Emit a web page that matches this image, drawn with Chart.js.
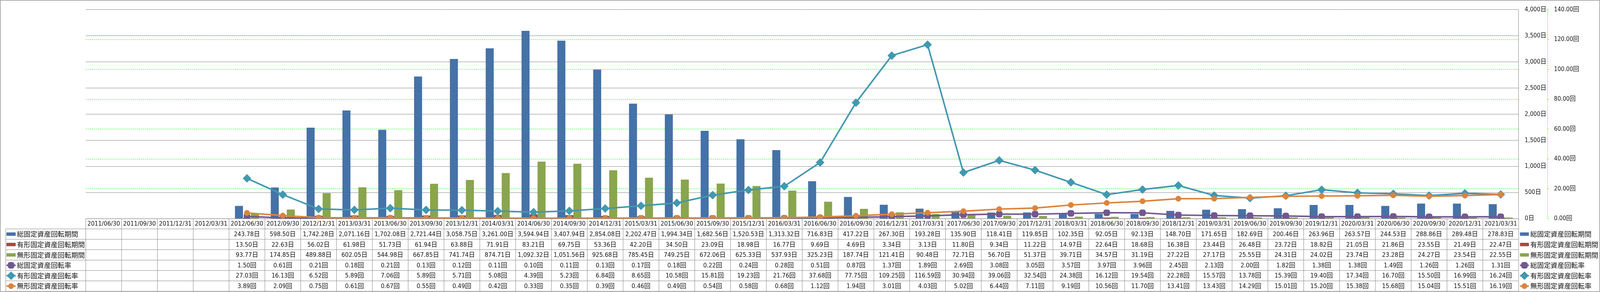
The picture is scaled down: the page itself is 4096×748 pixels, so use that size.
<!DOCTYPE html>
<html>
<head>
<meta charset="utf-8">
<script src="https://cdn.jsdelivr.net/npm/chart.js@4.4.1/dist/chart.umd.min.js"></script>
<style>
  html, body { margin: 0; padding: 0; background: #fff; }
  canvas { display: block; }
</style>
</head>
<body>
<canvas id="chart" width="4096" height="748"></canvas>
<script>
// the original picture is 4701 x 858, everything below is scaled to the window
const S = 4096 / 4701;

// quarters shown under the plot
const dates = [
  '2011/06/30', '2011/09/30', '2011/12/31', '2012/03/31', '2012/06/30', '2012/09/30', '2012/12/31', '2013/03/31',
  '2013/06/30', '2013/09/30', '2013/12/31', '2014/03/31', '2014/06/30', '2014/09/30', '2014/12/31', '2015/03/31',
  '2015/06/30', '2015/09/30', '2015/12/31', '2016/03/31', '2016/06/30', '2016/09/30', '2016/12/31', '2017/03/31',
  '2017/06/30', '2017/09/30', '2017/12/31', '2018/03/31', '2018/06/30', '2018/09/30', '2018/12/31', '2019/03/31',
  '2019/06/30', '2019/09/30', '2019/12/31', '2020/03/31', '2020/06/30', '2020/09/30', '2020/12/31', '2021/03/31'
];

// turnover periods (days) - bars, left scale
const totalPeriod = [null, null, null, null,
  243.78, 598.50, 1742.28, 2071.16, 1702.08, 2721.44, 3058.75, 3261.00, 3594.94, 3407.94, 2854.08, 2202.47,
  1994.34, 1682.56, 1520.53, 1313.32, 716.83, 417.22, 267.30, 193.28, 135.90, 118.41, 119.85, 102.35,
  92.05, 92.13, 148.70, 171.65, 182.69, 200.46, 263.96, 263.57, 244.53, 288.86, 289.48, 278.83];
const tangiblePeriod = [null, null, null, null,
  13.50, 22.63, 56.02, 61.98, 51.73, 61.94, 63.88, 71.91, 83.21, 69.75, 53.36, 42.20,
  34.50, 23.09, 18.98, 16.77, 9.69, 4.69, 3.34, 3.13, 11.80, 9.34, 11.22, 14.97,
  22.64, 18.68, 16.38, 23.44, 26.48, 23.72, 18.82, 21.05, 21.86, 23.55, 21.49, 22.47];
const intangiblePeriod = [null, null, null, null,
  93.77, 174.85, 489.88, 602.05, 544.98, 667.85, 741.74, 874.71, 1092.32, 1051.56, 925.68, 785.45,
  749.25, 672.06, 625.33, 537.93, 325.23, 187.74, 121.41, 90.48, 72.71, 56.70, 51.37, 39.71,
  34.57, 31.19, 27.22, 27.17, 25.55, 24.31, 24.02, 23.74, 23.28, 24.27, 23.54, 22.55];

// turnover rates (times) - lines, right scale
const totalRate = [null, null, null, null,
  1.50, 0.61, 0.21, 0.18, 0.21, 0.13, 0.12, 0.11, 0.10, 0.11, 0.13, 0.17,
  0.18, 0.22, 0.24, 0.28, 0.51, 0.87, 1.37, 1.89, 2.69, 3.08, 3.05, 3.57,
  3.97, 3.96, 2.45, 2.13, 2.00, 1.82, 1.38, 1.38, 1.49, 1.26, 1.26, 1.31];
const tangibleRate = [null, null, null, null,
  27.03, 16.13, 6.52, 5.89, 7.06, 5.89, 5.71, 5.08, 4.39, 5.23, 6.84, 8.65,
  10.58, 15.81, 19.23, 21.76, 37.68, 77.75, 109.25, 116.59, 30.94, 39.06, 32.54, 24.38,
  16.12, 19.54, 22.28, 15.57, 13.78, 15.39, 19.40, 17.34, 16.70, 15.50, 16.99, 16.24];
const intangibleRate = [null, null, null, null,
  3.89, 2.09, 0.75, 0.61, 0.67, 0.55, 0.49, 0.42, 0.33, 0.35, 0.39, 0.46,
  0.49, 0.54, 0.58, 0.68, 1.12, 1.94, 3.01, 4.03, 5.02, 6.44, 7.11, 9.19,
  10.56, 11.70, 13.41, 13.43, 14.29, 15.01, 15.20, 15.38, 15.68, 15.04, 15.51, 16.19];

// axis ranges
const dayMax = 4000, dayStep = 500;
const rateMax = 140, rateStep = 20;

const latinFont = "'DejaVu Sans Condensed', 'Liberation Sans Narrow', 'DejaVu Sans', 'Noto Sans CJK JP', sans-serif";
const cjkFont = "'Noto Sans CJK JP', sans-serif";
const gray = '#868686';
const green = '#00ff00';

function fmt(v) {
  return v.toLocaleString('en-US', { minimumFractionDigits: 2, maximumFractionDigits: 2 });
}

function barSet(label, data, color) {
  return {
    type: 'bar', label: label, data: data, unit: '日', yAxisID: 'y',
    backgroundColor: color, borderWidth: 0,
    categoryPercentage: 0.67, barPercentage: 1, order: 10
  };
}

function lineSet(label, data, color, style, radius, order) {
  return {
    type: 'line', label: label, data: data, unit: '回', yAxisID: 'y1',
    borderColor: color, backgroundColor: color, borderWidth: 4.5 * S,
    pointStyle: style, pointRadius: radius, pointHoverRadius: radius,
    pointBackgroundColor: color, pointBorderColor: color, pointBorderWidth: 1,
    tension: 0, order: order
  };
}

// draws one legend key (bar swatch or line with marker) between x0 and x1
function drawKey(ctx, ds, x0, x1, cy) {
  ctx.save();
  if (ds.type === 'bar') {
    ctx.fillStyle = ds.backgroundColor;
    ctx.fillRect(x0, cy - 5 * S, x1 - x0, 10 * S);
  } else {
    ctx.strokeStyle = ds.borderColor;
    ctx.lineWidth = ds.borderWidth;
    ctx.beginPath();
    ctx.moveTo(x0, cy);
    ctx.lineTo(x1, cy);
    ctx.stroke();
    ctx.fillStyle = ds.backgroundColor;
    ctx.lineWidth = 1;
    Chart.helpers.drawPoint(ctx, { pointStyle: ds.pointStyle, radius: ds.pointRadius, rotation: 0, borderWidth: 1 }, (x0 + x1) / 2, cy);
  }
  ctx.restore();
}

// data table under the plot, legend on the right, dashed right axis line and outer frame
const tablePlugin = {
  id: 'dataTable',
  afterDraw(chart) {
    const ctx = chart.ctx;
    const xs = chart.scales.x;
    const area = chart.chartArea;
    const n = dates.length;
    const colW = (xs.right - xs.left) / n;
    const top = area.bottom;
    const headBottom = 673 * S;
    const rowH = (856.4 - 673) / 6 * S;
    const bottom = headBottom + rowH * 6;
    const legLeft = 17 * S;

    ctx.save();
    ctx.strokeStyle = gray;
    ctx.lineWidth = 1;
    const line = (x1, y1, x2, y2) => {
      ctx.beginPath();
      ctx.moveTo(x1, y1);
      ctx.lineTo(x2, y2);
      ctx.stroke();
    };
    line(xs.left, top, xs.right, top);
    for (let r = 0; r <= 6; r++) {
      line(legLeft, headBottom + r * rowH, xs.right, headBottom + r * rowH);
    }
    line(legLeft, headBottom, legLeft, bottom);
    for (let j = 0; j <= n; j++) {
      const xx = xs.left + j * colW;
      line(xx, top, xx, bottom);
    }

    // header dates
    ctx.fillStyle = '#111';
    ctx.textAlign = 'center';
    ctx.textBaseline = 'middle';
    ctx.font = (18.5 * S) + 'px ' + latinFont;
    dates.forEach((d, i) => ctx.fillText(d, xs.getPixelForValue(i), (top + headBottom) / 2 + 1));

    // value rows + legend
    chart.data.datasets.forEach((ds, r) => {
      const cy = headBottom + (r + 0.5) * rowH;
      ctx.font = (18.5 * S) + 'px ' + latinFont;
      ctx.textAlign = 'center';
      ds.data.forEach((v, i) => {
        if (v == null) return;
        ctx.fillText(fmt(v) + ds.unit, xs.getPixelForValue(i), cy + 1);
      });
      drawKey(ctx, ds, 19 * S, 46 * S, cy);
      drawKey(ctx, ds, 4466 * S, 4492 * S, cy);
      ctx.font = (20 * S) + 'px ' + cjkFont;
      ctx.textAlign = 'left';
      ctx.fillText(ds.label, 49.5 * S, cy);
      ctx.fillText(ds.label, 4496 * S, cy);
    });

    // dashed line of the right-hand rate axis
    const ax = chart.scales.y1.left;
    ctx.strokeStyle = green;
    ctx.setLineDash([3.5 * S, 2.5 * S]);
    line(ax, area.top, ax, area.bottom);
    ctx.setLineDash([]);

    // outer frame
    ctx.strokeStyle = gray;
    ctx.lineWidth = 1.3;
    ctx.strokeRect(1 * S, 1 * S, 4699 * S, 856 * S);
    ctx.restore();
  }
};

Chart.defaults.font.family = latinFont;
Chart.defaults.color = '#111';

new Chart(document.getElementById('chart'), {
  data: {
    labels: dates,
    datasets: [
      barSet('総固定資産回転期間', totalPeriod, '#4572A7'),
      barSet('有形固定資産回転期間', tangiblePeriod, '#AA4643'),
      barSet('無形固定資産回転期間', intangiblePeriod, '#89A54E'),
      lineSet('総固定資産回転率', totalRate, '#71588F', 'rectRounded', 10.5 * S, 3),
      lineSet('有形固定資産回転率', tangibleRate, '#4198AF', 'rectRot', 12 * S, 2),
      lineSet('無形固定資産回転率', intangibleRate, '#DB843D', 'circle', 8 * S, 1)
    ]
  },
  options: {
    responsive: false,
    devicePixelRatio: 1,
    animation: false,
    events: [],
    layout: { padding: { left: 252 * S, top: 14 * S, right: 0, bottom: 0 } },
    plugins: { legend: { display: false }, tooltip: { enabled: false } },
    scales: {
      x: {
        type: 'category',
        offset: true,
        grid: { display: false },
        border: { display: false },
        ticks: { display: false },
        afterFit(scale) { scale.height = 748 - 643 * S; }
      },
      y: {
        position: 'right',
        weight: 0,
        min: 0,
        max: dayMax,
        ticks: {
          stepSize: dayStep,
          padding: 15.6,
          font: { size: 17.8 * S },
          color: '#111',
          callback: v => v.toLocaleString('en-US') + '日'
        },
        grid: { color: gray, lineWidth: 1, drawTicks: false },
        border: { display: true, color: gray, width: 1 },
        afterFit(scale) { scale.width = (4547 - 4462) * S; }
      },
      y1: {
        position: 'right',
        weight: 1,
        min: 0,
        max: rateMax,
        ticks: {
          stepSize: rateStep,
          padding: 13,
          font: { size: 17.8 * S },
          color: '#111',
          callback: v => v.toFixed(2) + '回'
        },
        grid: {
          color: c => (c.tick && (c.tick.value === 0 || c.tick.value === rateMax)) ? 'rgba(0,0,0,0)' : green,
          lineWidth: 1,
          drawTicks: true,
          tickLength: 4 * S,
          tickColor: green,
          tickBorderDash: []
        },
        border: { display: false, dash: [3.5 * S, 2.5 * S] },
        afterFit(scale) { scale.width = 4096 - 4547 * S; }
      }
    }
  },
  plugins: [tablePlugin]
});
</script>
</body>
</html>
